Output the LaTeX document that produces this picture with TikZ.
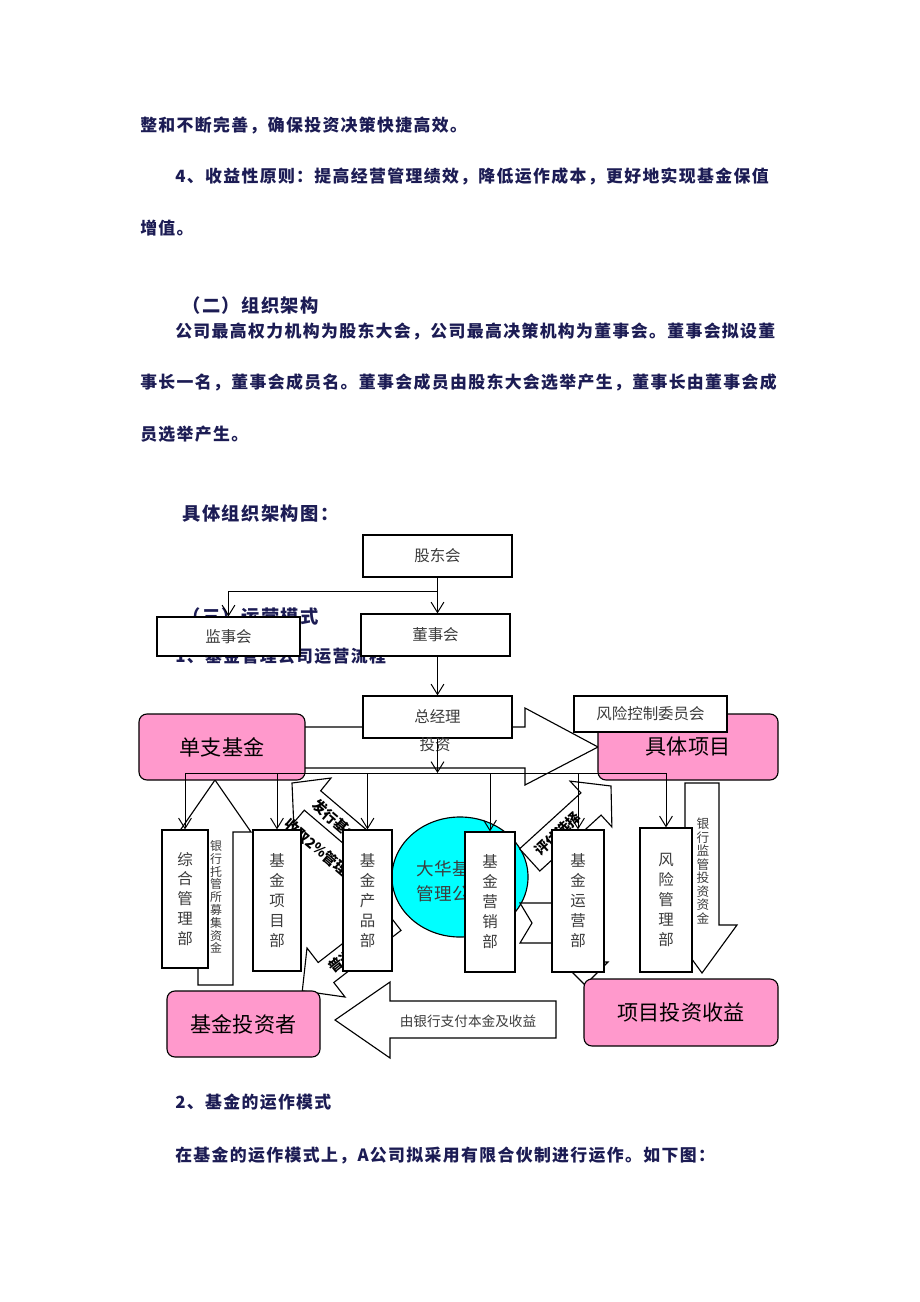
\documentclass[tikz,border=0pt]{standalone}
\usepackage{fontspec}
\usetikzlibrary{arrows.meta,shapes.geometric}

\newfontfamily\cjk{Noto Sans CJK SC}
\newfontfamily\cjkspaced[LetterSpace=8]{Noto Sans CJK SC}

\definecolor{textnavy}{RGB}{28,28,84}
\definecolor{pinkfill}{RGB}{255,153,204}
\definecolor{cyanfill}{RGB}{0,255,255}
\definecolor{boxtext}{RGB}{60,60,60}

\tikzset{
  bodytext/.style={anchor=west, inner sep=0pt, text=textnavy,
    font=\cjkspaced\bfseries\fontsize{12pt}{14pt}\selectfont},
  headtext/.style={anchor=west, inner sep=0pt, text=textnavy,
    font=\cjkspaced\bfseries\fontsize{13pt}{15pt}\selectfont},
  plainbox/.style={draw, line width=0.8pt, fill=white, inner sep=0pt, text=boxtext,
    font=\cjk\fontsize{11pt}{13pt}\selectfont},
  pinkbox/.style={draw, line width=0.8pt, fill=pinkfill, rounded corners=0.2cm,
    inner sep=0pt, font=\cjk\fontsize{15pt}{17pt}\selectfont},
  deptbox/.style={draw, line width=0.8pt, fill=white, inner sep=0pt, align=center,
    text=boxtext, font=\cjk\fontsize{11pt}{14.2pt}\selectfont},
  blockarrow/.style={draw, line width=0.8pt, fill=white, line join=miter},
  arrowtext/.style={inner sep=0pt, font=\cjk\bfseries\fontsize{10pt}{12pt}\selectfont},
  link/.style={line width=0.7pt, -{Straight Barb[length=2.6mm,width=3.2mm]}}
}

\begin{document}
\begin{tikzpicture}[x=0.025cm, y=-0.025cm]

  % page
  \useasboundingbox[fill=white] (0,0) rectangle (920,1302);

  % running text of the page
  \node (l1) at (140,125) [bodytext] {整和不断完善，确保投资决策快捷高效。};
  \node (l2) at (175,176) [bodytext] {4、收益性原则：提高经营管理绩效，降低运作成本，更好地实现基金保值};
  \node (l3) at (140,228) [bodytext] {增值。};
  \node (h2) at (182,306) [headtext] {（二）组织架构};
  \node (l4) at (175,331) [bodytext] {公司最高权力机构为股东大会，公司最高决策机构为董事会。董事会拟设董};
  \node (l5) at (140,382) [bodytext] {事长一名，董事会成员名。董事会成员由股东大会选举产生，董事长由董事会成};
  \node (l6) at (140,434) [bodytext] {员选举产生。};
  \node (h3) at (182,514) [headtext] {具体组织架构图：};
  \node (h4) at (182,617) [headtext] {（三）运营模式};
  \node (l7) at (175,656) [bodytext] {1、基金管理公司运营流程};
  \node (l8) at (175,1102) [bodytext] {2、基金的运作模式};
  \node (l9) at (175,1155) [bodytext] {在基金的运作模式上，A公司拟采用有限合伙制进行运作。如下图：};

  % big arrow: single fund -> projects
  \draw[blockarrow] (250,727) -- (525,727) -- (525,708) -- (598,747)
    -- (525,785) -- (525,768) -- (250,768) -- cycle;

  % bank custody arrow (up)
  \draw[blockarrow] (198,985) -- (198,832) -- (179,832) -- (215,780)
    -- (251,832) -- (233,832) -- (233,985) -- cycle;
  \node (tg) at (216,897) [inner sep=0pt, align=center, text=boxtext,
    font=\cjk\fontsize{8.5pt}{9.1pt}\selectfont] {银\\行\\托\\管\\所\\募\\集\\资\\金};

  % bank supervision arrow (down)
  \draw[blockarrow] (685,783) -- (719,783) -- (719,925) -- (737,925)
    -- (702,973) -- (667,925) -- (685,925) -- cycle;
  \node (jg) at (703,871) [inner sep=0pt, align=center, text=boxtext,
    font=\cjk\fontsize{9pt}{9.6pt}\selectfont] {银\\行\\监\\管\\投\\资\\资\\金};

  % repayment arrow (left)
  \draw[blockarrow] (335,1020) -- (390,982) -- (390,1001) -- (556,1001)
    -- (556,1038) -- (390,1038) -- (390,1058) -- cycle;
  \node (zf) at (468,1021) [inner sep=0pt, text=boxtext,
    font=\cjk\fontsize{9.7pt}{11pt}\selectfont] {由银行支付本金及收益};

  % fund company
  \node (dh) at (460,877) [ellipse, draw, line width=0.8pt, fill=cyanfill,
    minimum width=3.4cm, minimum height=3cm] {};
  \node (dht) at (452,881) [inner sep=0pt, align=left, text=boxtext,
    font=\cjk\fontsize{12.5pt}{17.8pt}\selectfont] {大华基金\\管理公司};

  % diagonal arrows
  \draw[blockarrow] (292,783) -- (331,778) -- (320.7,790.8) -- (389.2,849.1)
    -- (372.8,868.6) -- (304.3,810.2) -- (293.7,822.6) -- cycle;
  \node (fx1) at (336,821) [arrowtext, rotate=-40.5] {发行基金};
  \node (fx2) at (322,852) [arrowtext, rotate=-40.5] {收取2\%管理费};

  \draw[blockarrow] (302.3,990.9) -- (345,997) -- (333.8,982.5) -- (401,930.4)
    -- (385.4,910.4) -- (318.2,962.5) -- (307,948) -- cycle;
  \node (pt) at (341,960.9) [arrowtext, rotate=37.8] {普通};

  \draw[blockarrow] (611,786) -- (611.9,826.9) -- (601.1,815.1) -- (539.8,871)
    -- (519.6,848.8) -- (580.9,792.9) -- (570.1,781.1) -- cycle;
  \node (pg) at (558,834) [arrowtext, rotate=42.4] {评估选择};

  \draw[blockarrow] (520,903) -- (600,903) -- (600,962) -- (608,962) -- (585,985)
    -- (562,962) -- (570,962) -- (570,943) -- (520,943) -- (532,923) -- cycle;

  % boards
  \node (gd) at (437.5,556) [plainbox, minimum width=3.725cm, minimum height=1.05cm] {股东会};
  \node (ds) at (435.5,635) [plainbox, minimum width=3.725cm, minimum height=1.05cm] {董事会};
  \node (js) at (228.5,636.5) [plainbox, minimum width=3.575cm, minimum height=0.975cm] {监事会};

  % pink blocks
  \node (dz) at (222,747) [pinkbox, minimum width=4.15cm, minimum height=1.65cm] {单支基金};
  \node (jt) at (688,747) [pinkbox, minimum width=4.5cm, minimum height=1.65cm] {具体项目};
  \node (tzz) at (243.5,1024) [pinkbox, minimum width=3.825cm, minimum height=1.65cm] {基金投资者};
  \node (sy) at (681,1012.5) [pinkbox, minimum width=4.85cm, minimum height=1.675cm] {项目投资收益};

  \node (zj) at (437.5,717) [plainbox, minimum width=3.725cm, minimum height=1.05cm] {总经理};
  \node (fk) at (650.5,714) [plainbox, minimum width=3.825cm, minimum height=0.9cm] {风险控制委员会};

  % departments
  \node (zh) at (185,899) [deptbox, minimum width=1.15cm, minimum height=3.45cm] {综\\合\\管\\理\\部};
  \node (xm) at (277,900.5) [deptbox, minimum width=1.2cm, minimum height=3.525cm] {基\\金\\项\\目\\部};
  \node (cp) at (367.5,900.5) [deptbox, minimum width=1.225cm, minimum height=3.525cm] {基\\金\\产\\品\\部};
  \node (yx) at (490,902) [deptbox, minimum width=1.25cm, minimum height=3.5cm] {基\\金\\营\\销\\部};
  \node (yy) at (578,901) [deptbox, minimum width=1.3cm, minimum height=3.55cm] {基\\金\\运\\营\\部};
  \node (fx) at (666,900) [deptbox, minimum width=1.3cm, minimum height=3.6cm] {风\\险\\管\\理\\部};

  % connectors
  \node (tz) at (435,745) [inner sep=0pt, text=boxtext, font=\cjk\fontsize{11pt}{13pt}\selectfont] {投资};
  \coordinate (bus) at (181,773);

  \draw[link] (gd.south) -- (gd.south |- ds.north);
  \draw[link] (gd.south) ++(0,14) -| (js.north);
  \draw[link] (ds.south -| zj.north) -- (zj.north);
  \draw[link] (zj.south) -- (zj.south |- bus);
  \draw[line width=0.7pt] (bus -| zh.north) -- (bus -| fx.north);
  \foreach \d in {zh,xm,cp,yx,yy,fx}
    \draw[link] (bus -| \d.north) -- (\d.north);

\end{tikzpicture}
\end{document}
